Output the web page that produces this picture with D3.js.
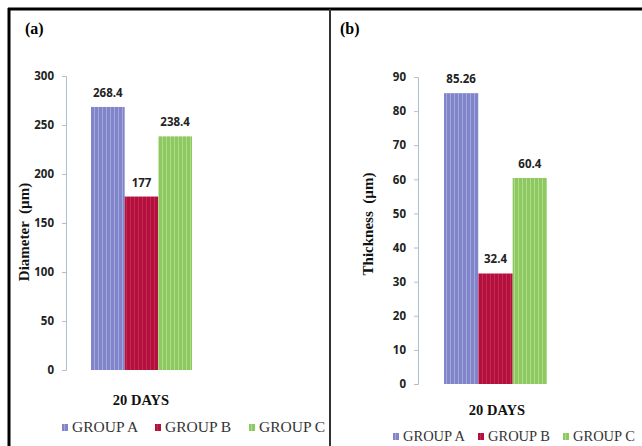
<!DOCTYPE html>
<html>
<head>
<meta charset="utf-8">
<script src="https://cdn.jsdelivr.net/npm/d3@7"></script>
<style>
  body { margin: 0; background: #fff; }
  svg { display: block; }
  text { white-space: pre; }
</style>
</head>
<body>
<div id="chart"></div>
<script>
var groups = ["GROUP A", "GROUP B", "GROUP C"];
var category = "20 DAYS";
var diameter = [268.4, 177, 238.4];
var thickness = [85.26, 32.4, 60.4];
var diameterTicks = [0, 50, 100, 150, 200, 250, 300];
var thicknessTicks = [0, 10, 20, 30, 40, 50, 60, 70, 80, 90];
var diameterLabels = ["268.4", "177", "238.4"];
var thicknessLabels = ["85.26", "32.4", "60.4"];

var colors = ["#8184c9", "#b3113d", "#8dc862"];
var stripes = ["#a7b1e6", "#cf2e5a", "#b4e28a"];

var svg = d3.select("#chart").append("svg")
    .attr("width", 642)
    .attr("height", 446);

var defs = svg.append("defs");
groups.forEach(function(g, i) {
    var p = defs.append("pattern")
        .attr("id", "pat" + i)
        .attr("patternUnits", "userSpaceOnUse")
        .attr("width", 4)
        .attr("height", 4);
    p.append("rect").attr("width", 4).attr("height", 4).attr("fill", colors[i]);
    p.append("rect").attr("x", 2).attr("width", 1).attr("height", 4).attr("fill", stripes[i]).attr("opacity", 0.8);
});

// frame
svg.append("line").attr("x1", 8).attr("x2", 642).attr("y1", 9).attr("y2", 9)
    .attr("stroke", "#000").attr("stroke-width", 3);
svg.append("line").attr("x1", 9).attr("x2", 9).attr("y1", 8).attr("y2", 446)
    .attr("stroke", "#000").attr("stroke-width", 3);
svg.append("line").attr("x1", 330).attr("x2", 330).attr("y1", 9).attr("y2", 446)
    .attr("stroke", "#333").attr("stroke-width", 2);

drawPanel({
    tag: "(a)", tagX: 25,
    values: diameter, labels: diameterLabels, ticks: diameterTicks, max: 300,
    axisX: 66, yTop: 76, yBottom: 370,
    barLeft: 91, barRight: 192,
    ylabel: "Diameter  (\u00b5m)", ylabelX: 29, ylabelY: 232,
    catX: 141, catY: 405,
    legendY: 427, legendX: [62, 155, 249], legendSize: 15.5
});

drawPanel({
    tag: "(b)", tagX: 340,
    values: thickness, labels: thicknessLabels, ticks: thicknessTicks, max: 90,
    axisX: 418, yTop: 77, yBottom: 384,
    barLeft: 444, barRight: 547,
    ylabel: "Thickness  (\u00b5m)", ylabelX: 373, ylabelY: 224,
    catX: 497, catY: 415,
    legendY: 436, legendX: [393, 478, 563], legendSize: 14.5
});

function drawPanel(o) {
    var g = svg.append("g");

    g.append("text")
        .attr("x", o.tagX).attr("y", 34)
        .attr("font-family", "Liberation Serif")
        .attr("font-weight", "bold")
        .attr("font-size", 16)
        .text(o.tag);

    var y = d3.scaleLinear().domain([0, o.max]).range([o.yBottom, o.yTop]);
    var x = d3.scaleBand().domain(groups).range([o.barLeft, o.barRight]).padding(0);

    var axis = d3.axisLeft(y).tickValues(o.ticks).tickSize(4).tickPadding(8);
    var ax = g.append("g")
        .attr("transform", "translate(" + o.axisX + ",0)")
        .call(axis);
    ax.selectAll("path, line").attr("stroke", "#a9c1c9");
    ax.selectAll("text")
        .attr("font-family", "Open Sans")
        .attr("font-weight", "bold")
        .attr("font-size", 11.5)
        .attr("fill", "#222");

    g.selectAll("rect.bar")
        .data(o.values)
        .enter()
        .append("rect")
        .attr("class", "bar")
        .attr("x", function(d, i) { return x(groups[i]); })
        .attr("width", x.bandwidth())
        .attr("y", function(d) { return y(d); })
        .attr("height", function(d) { return o.yBottom - y(d); })
        .attr("fill", function(d, i) { return "url(#pat" + i + ")"; });

    g.selectAll("text.val")
        .data(o.values)
        .enter()
        .append("text")
        .attr("class", "val")
        .attr("x", function(d, i) { return x(groups[i]) + x.bandwidth() / 2; })
        .attr("y", function(d) { return y(d) - 10; })
        .attr("text-anchor", "middle")
        .attr("font-family", "Open Sans")
        .attr("font-weight", "bold")
        .attr("font-size", 11.5)
        .attr("fill", "#222")
        .text(function(d, i) { return o.labels[i]; });

    g.append("text")
        .attr("transform", "translate(" + o.ylabelX + "," + o.ylabelY + ") rotate(-90)")
        .attr("text-anchor", "middle")
        .attr("font-family", "Liberation Serif")
        .attr("font-weight", "bold")
        .attr("font-size", 15)
        .attr("fill", "#111")
        .text(o.ylabel);

    g.append("text")
        .attr("x", o.catX).attr("y", o.catY)
        .attr("text-anchor", "middle")
        .attr("font-family", "Liberation Serif")
        .attr("font-weight", "bold")
        .attr("font-size", 14.5)
        .attr("fill", "#111")
        .text(category);

    var leg = g.selectAll("g.leg")
        .data(groups)
        .enter()
        .append("g")
        .attr("class", "leg")
        .attr("transform", function(d, i) { return "translate(" + o.legendX[i] + "," + o.legendY + ")"; });
    leg.append("rect")
        .attr("x", 0).attr("y", -3)
        .attr("width", 6).attr("height", 7)
        .attr("fill", function(d, i) { return "url(#pat" + i + ")"; });
    leg.append("text")
        .attr("x", 10).attr("y", 5)
        .attr("font-family", "Liberation Serif")
        .attr("font-size", o.legendSize)
        .attr("fill", "#333")
        .text(function(d) { return d; });
}
</script>
</body>
</html>
